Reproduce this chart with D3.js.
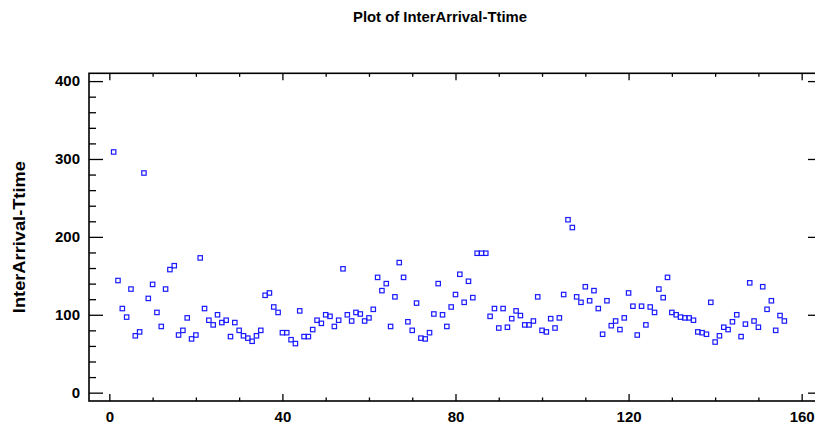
<!DOCTYPE html>
<html><head><meta charset="utf-8">
<script src="https://cdn.jsdelivr.net/npm/d3@7"></script>
<style>
html,body{margin:0;padding:0;background:#fff;}
svg text{font-family:"Liberation Sans",Arial,sans-serif;font-weight:bold;fill:#000;}
</style></head>
<body><svg id="c" width="815" height="427"></svg>
<script>
const title = "Plot of InterArrival-Ttime";
const yLabel = "InterArrival-Ttime";
const xTicks = [0, 40, 80, 120, 160];
const yTicks = [0, 100, 200, 300, 400];
const obs = d3.range(1, 157);
const values = [309,144,108,97,133,73,78,282,121,139,103,85,133,158,163,74,80,96,69,74,
173,108,93,87,100,90,93,72,90,80,73,70,66,73,80,125,128,110,103,77,
77,68,63,105,72,72,81,93,89,100,98,85,93,159,100,92,103,101,92,96,
107,148,131,140,85,123,167,148,91,80,115,70,69,77,101,140,100,85,110,126,
152,116,143,122,179,179,179,98,108,83,108,84,95,105,99,87,87,92,123,80,
78,95,83,96,126,222,212,123,116,136,118,131,108,75,118,86,92,81,96,128,
111,74,111,87,110,103,133,122,148,103,100,97,96,96,93,78,77,75,116,65,
73,84,81,91,100,72,88,141,92,84,136,107,118,80,99,92];

const svg = d3.select("#c");
const L = 89, R = 822, T = 73.3, B = 401;
const x = d3.scaleLinear().domain([-4.7, 164.7]).range([L, R]);
const y = d3.scaleLinear().domain([-10.7, 410]).range([B, T]);

svg.append("text").attr("x", 440).attr("y", 22).attr("text-anchor", "middle")
  .style("font-size", "14px").attr("textLength", 174).attr("lengthAdjust", "spacingAndGlyphs").text(title);

const minorX = d3.range(0, 161, 10).filter(v => v % 40 !== 0);
const minorY = d3.range(0, 401, 20).filter(v => v % 100 !== 0);

function ax(gen, tr, vals, size, labels) {
  const g = svg.append("g").attr("transform", tr)
    .call(gen.tickValues(vals).tickSize(size).tickPadding(8)
      .tickFormat(labels ? d3.format("d") : () => ""));
  g.select(".domain").remove();
  g.selectAll("line").attr("stroke", "#000").attr("stroke-width", 1.3);
  g.selectAll("text").style("font-size", "15px").style("font-family", "'Liberation Sans',Arial,sans-serif").style("font-weight", "bold");
  return g;
}
// bottom
const gb = ax(d3.axisBottom(x), `translate(0,${B})`, xTicks, -7, true);
gb.selectAll("text").attr("y", 10);
ax(d3.axisBottom(x), `translate(0,${B})`, minorX, -3.5, false);
// top
ax(d3.axisTop(x), `translate(0,${T})`, xTicks, -7, false);
ax(d3.axisTop(x), `translate(0,${T})`, minorX, -3.5, false);
// left
const gl = ax(d3.axisLeft(y), `translate(${L},0)`, yTicks, -14, true);
gl.selectAll("text").attr("x", -9);
ax(d3.axisLeft(y), `translate(${L},0)`, minorY, -7, false);
// right
ax(d3.axisRight(y), `translate(${R},0)`, yTicks, -14, false);
ax(d3.axisRight(y), `translate(${R},0)`, minorY, -7, false);

svg.append("rect").attr("x", L).attr("y", T).attr("width", R - L).attr("height", B - T)
  .attr("fill", "none").attr("stroke", "#000").attr("stroke-width", 1.6);

svg.append("text").attr("transform", `translate(25,${(T + B) / 2}) rotate(-90)`)
  .attr("text-anchor", "middle").style("font-size", "16px")
  .attr("textLength", 152).attr("lengthAdjust", "spacingAndGlyphs").text(yLabel);

svg.append("g").selectAll("rect").data(obs).join("rect")
  .attr("x", (d) => x(d) - 2.2).attr("y", (d, i) => y(values[i]) - 2.2)
  .attr("width", 4.4).attr("height", 4.4)
  .attr("fill", "none").attr("stroke", "#1a1aff").attr("stroke-width", 1.2);
</script></body></html>
